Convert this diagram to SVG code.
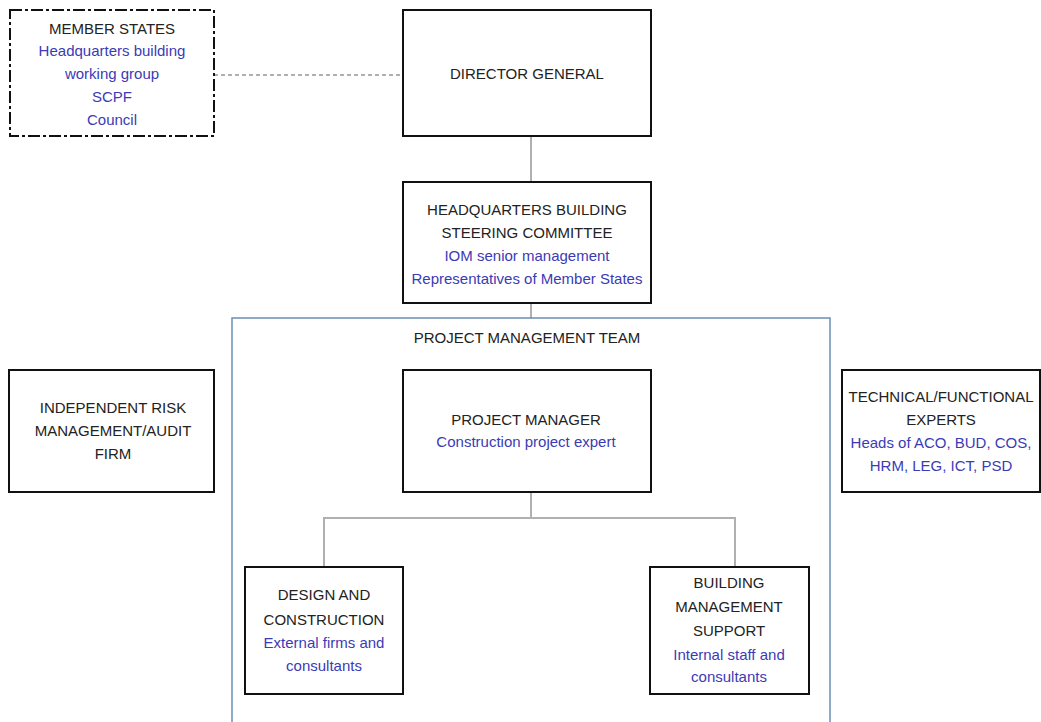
<svg xmlns="http://www.w3.org/2000/svg" width="1041" height="722" viewBox="0 0 1041 722">
<style>
.box{fill:#fff;stroke:#111;stroke-width:2}
.t{font-family:"Liberation Sans",Arial,sans-serif;font-size:15px;text-anchor:middle;fill:#222}
.s{fill:#3b3bb5}
.c{stroke:#b0b0b0;stroke-width:2;fill:none}
</style>
<rect width="1041" height="722" fill="#fff"/>
<g id="connectors">
<line class="c" x1="214" y1="75" x2="403" y2="75" stroke-dasharray="4,3" stroke-width="1" stroke="#999"/>
<line class="c" x1="531" y1="136" x2="531" y2="182"/>
<line class="c" x1="531" y1="303" x2="531" y2="318"/>
<line class="c" x1="531" y1="492" x2="531" y2="518"/>
<polyline class="c" points="324,567 324,518 735,518 735,567"/>
</g>
<g id="pmt">
<rect x="232" y="318" width="598" height="410" fill="none" stroke="#6a8fb5" stroke-width="1.5"/>
<text class="t" x="527" y="343">PROJECT MANAGEMENT TEAM</text>
</g>
<g id="member-states">
<rect x="10" y="10" width="204" height="126" fill="#fff" stroke="#111" stroke-width="2" stroke-dasharray="12,3,3,3"/>
<text class="t" x="112" y="34">MEMBER STATES</text>
<text class="t s" x="112" y="56">Headquarters building</text>
<text class="t s" x="112" y="79">working group</text>
<text class="t s" x="112" y="102">SCPF</text>
<text class="t s" x="112" y="125">Council</text>
</g>
<g id="director-general">
<rect class="box" x="403" y="10" width="248" height="126" stroke-width="2.5"/>
<text class="t" x="527" y="79">DIRECTOR GENERAL</text>
</g>
<g id="steering-committee">
<rect class="box" x="403" y="182" width="248" height="121"/>
<text class="t" x="527" y="215">HEADQUARTERS BUILDING</text>
<text class="t" x="527" y="238">STEERING COMMITTEE</text>
<text class="t s" x="527" y="261">IOM senior management</text>
<text class="t s" x="527" y="284">Representatives of Member States</text>
</g>
<g id="project-manager">
<rect class="box" x="403" y="370" width="248" height="122"/>
<text class="t" x="526" y="425">PROJECT MANAGER</text>
<text class="t s" x="526" y="447">Construction project expert</text>
</g>
<g id="risk-audit">
<rect class="box" x="9" y="370" width="205" height="122"/>
<text class="t" x="113" y="413">INDEPENDENT RISK</text>
<text class="t" x="113" y="436">MANAGEMENT/AUDIT</text>
<text class="t" x="113" y="459">FIRM</text>
</g>
<g id="technical-experts">
<rect class="box" x="842" y="370" width="198" height="122"/>
<text class="t" x="941" y="402">TECHNICAL/FUNCTIONAL</text>
<text class="t" x="941" y="425">EXPERTS</text>
<text class="t s" x="941" y="448">Heads of ACO, BUD, COS,</text>
<text class="t s" x="941" y="471">HRM, LEG, ICT, PSD</text>
</g>
<g id="design-construction">
<rect class="box" x="245" y="567" width="158" height="127"/>
<text class="t" x="324" y="600">DESIGN AND</text>
<text class="t" x="324" y="625">CONSTRUCTION</text>
<text class="t s" x="324" y="648">External firms and</text>
<text class="t s" x="324" y="671">consultants</text>
</g>
<g id="building-management">
<rect class="box" x="650" y="567" width="159" height="127"/>
<text class="t" x="729" y="588">BUILDING</text>
<text class="t" x="729" y="612">MANAGEMENT</text>
<text class="t" x="729" y="636">SUPPORT</text>
<text class="t s" x="729" y="660">Internal staff and</text>
<text class="t s" x="729" y="682">consultants</text>
</g>
</svg>
